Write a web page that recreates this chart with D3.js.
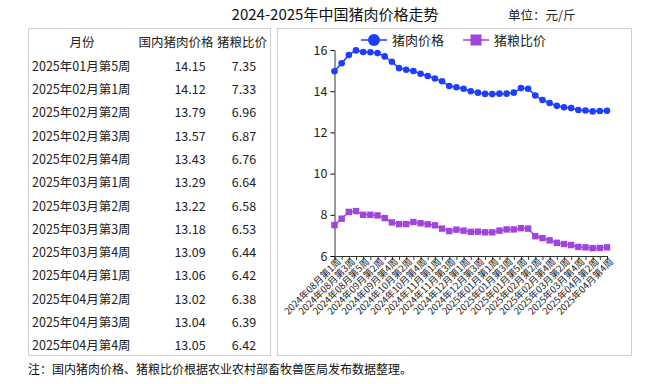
<!DOCTYPE html>
<html>
<head>
<meta charset="utf-8">
<script src="https://cdn.jsdelivr.net/npm/d3@7"></script>
<style>
  body { margin: 0; background: #fff; }
  svg text { font-family: "Noto Sans CJK SC", "Noto Sans", sans-serif; }
</style>
</head>
<body>
<svg id="chart" width="655" height="384"></svg>
<script>
// weekly labels 2024-08 wk1 .. 2025-04 wk4
var weeks = [
  "2024年08月第1周","2024年08月第2周","2024年08月第3周","2024年08月第4周","2024年08月第5周",
  "2024年09月第1周","2024年09月第2周","2024年09月第3周","2024年09月第4周",
  "2024年10月第1周","2024年10月第2周","2024年10月第3周","2024年10月第4周","2024年10月第5周",
  "2024年11月第1周","2024年11月第2周","2024年11月第3周","2024年11月第4周",
  "2024年12月第1周","2024年12月第2周","2024年12月第3周","2024年12月第4周",
  "2025年01月第1周","2025年01月第2周","2025年01月第3周","2025年01月第4周","2025年01月第5周",
  "2025年02月第1周","2025年02月第2周","2025年02月第3周","2025年02月第4周",
  "2025年03月第1周","2025年03月第2周","2025年03月第3周","2025年03月第4周",
  "2025年04月第1周","2025年04月第2周","2025年04月第3周","2025年04月第4周"
];
var porkPrice = [
  14.97, 15.36, 15.76, 15.98, 15.90, 15.89, 15.85, 15.69, 15.43,
  15.12, 15.04, 14.98, 14.85, 14.74, 14.62, 14.48, 14.25, 14.19,
  14.12, 14.00, 13.93, 13.87, 13.86, 13.88, 13.88, 13.93, 14.15,
  14.12, 13.79, 13.57, 13.43, 13.29, 13.22, 13.18, 13.09, 13.06,
  13.02, 13.04, 13.05
];
var pigGrainRatio = [
  7.50, 7.81, 8.14, 8.18, 8.00, 8.00, 7.97, 7.84, 7.63,
  7.55, 7.55, 7.65, 7.59, 7.54, 7.49, 7.33, 7.21, 7.28,
  7.23, 7.17, 7.18, 7.15, 7.15, 7.23, 7.29, 7.29, 7.35,
  7.33, 6.96, 6.87, 6.76, 6.64, 6.58, 6.53, 6.44, 6.42,
  6.38, 6.39, 6.42
];
var yTicks = [6, 8, 10, 12, 14, 16];

var tableHeader = ["月份", "国内猪肉价格", "猪粮比价"];
var tableStart = 26; // 2025年01月第5周
var seriesNames = ["猪肉价格", "猪粮比价"];
var seriesColors = ["#1f3dff", "#a044dc"];

var svg = d3.select("#chart");

// title
svg.append("text").attr("x", 335).attr("y", 20).attr("text-anchor", "middle")
  .style("font-size", "15px").style("fill", "#111").text("2024-2025年中国猪肉价格走势");
svg.append("text").attr("x", 508).attr("y", 20)
  .style("font-size", "12.5px").style("fill", "#222").text("单位：元/斤");

// panels
svg.append("rect").attr("x", 28.5).attr("y", 28.5).attr("width", 242).attr("height", 327)
  .attr("fill", "#fff").attr("stroke", "#cfcfcf");
svg.append("rect").attr("x", 277.5).attr("y", 28.5).attr("width", 354).attr("height", 327)
  .attr("fill", "#fff").attr("stroke", "#cfcfcf");

// table
var rowY = d3.scaleLinear().domain([0, 13]).range([43, 346]);
var colX = [82, 176, 242];
var tbl = svg.append("g").style("font-size", "12.5px").style("fill", "#222");
tableHeader.forEach(function(h, i){
  tbl.append("text").attr("x", colX[i]).attr("y", rowY(0)).attr("dy", "0.35em")
    .attr("text-anchor", "middle").text(h);
});
var rows = d3.range(tableStart, weeks.length);
rows.forEach(function(idx, r){
  var y = rowY(r + 1);
  tbl.append("text").attr("x", 32).attr("y", y).attr("dy", "0.35em").text(weeks[idx]);
  tbl.append("text").attr("x", 190).attr("y", y).attr("dy", "0.35em").attr("text-anchor", "middle")
    .text(porkPrice[idx].toFixed(2));
  tbl.append("text").attr("x", 244).attr("y", y).attr("dy", "0.35em").attr("text-anchor", "middle")
    .text(pigGrainRatio[idx].toFixed(2));
});

// chart
var x = d3.scalePoint().domain(weeks).range([334.5, 607]);
var y = d3.scaleLinear().domain([6, 16]).range([256, 50]);

var xAxis = svg.append("g").attr("transform", "translate(0,256)")
  .call(d3.axisBottom(x).tickSize(4).tickFormat(function(d, i){ return i % 2 === 0 ? d : ""; }));
xAxis.select(".domain").attr("stroke", "#333");
xAxis.selectAll(".tick line").attr("stroke", "#333");
xAxis.selectAll("text")
  .style("font-size", "9.5px").style("fill", "#222")
  .attr("text-anchor", "end")
  .attr("transform", "translate(4,4) rotate(-45)")
  .attr("dx", "0").attr("dy", "0.35em").attr("y", 0).attr("x", 0);

var yAxis = svg.append("g").attr("transform", "translate(334.5,0)")
  .call(d3.axisLeft(y).tickValues(yTicks).tickSize(4).tickSizeOuter(0));
yAxis.select(".domain").attr("stroke", "#333");
yAxis.selectAll("text").style("font-size", "12.5px").style("fill", "#222");

var series = [porkPrice, pigGrainRatio];
var line = d3.line().x(function(d, i){ return x(weeks[i]); }).y(function(d){ return y(d); });

series.forEach(function(vals, s){
  svg.append("path").datum(vals).attr("d", line)
    .attr("fill", "none").attr("stroke", seriesColors[s]).attr("stroke-width", 1.5);
  if (s === 0) {
    svg.selectAll(".pt0").data(vals).enter().append("circle").attr("class", "pt0")
      .attr("cx", function(d, i){ return x(weeks[i]); }).attr("cy", function(d){ return y(d); })
      .attr("r", 3.3).attr("fill", seriesColors[s]);
  } else {
    svg.selectAll(".pt1").data(vals).enter().append("rect").attr("class", "pt1")
      .attr("x", function(d, i){ return x(weeks[i]) - 3.2; }).attr("y", function(d){ return y(d) - 3.2; })
      .attr("width", 6.4).attr("height", 6.4).attr("fill", seriesColors[s]);
  }
});

// legend
var lg = svg.append("g").style("font-size", "13px");
var lgX = [361, 463];
seriesNames.forEach(function(n, s){
  var g = lg.append("g").attr("transform", "translate(" + lgX[s] + ",40)");
  g.append("line").attr("x1", 0).attr("x2", 26).attr("stroke", seriesColors[s]).attr("stroke-width", 1.5);
  if (s === 0) g.append("circle").attr("cx", 13).attr("r", 6).attr("fill", seriesColors[s]);
  else g.append("rect").attr("x", 7.5).attr("y", -5.5).attr("width", 11).attr("height", 11).attr("fill", seriesColors[s]);
  g.append("text").attr("x", 31).attr("dy", "0.35em").style("fill", "#222").text(n);
});

// footnote
svg.append("text").attr("x", 28).attr("y", 374)
  .style("font-size", "12px").style("fill", "#111")
  .text("注：国内猪肉价格、猪粮比价根据农业农村部畜牧兽医局发布数据整理。");
</script>
</body>
</html>
